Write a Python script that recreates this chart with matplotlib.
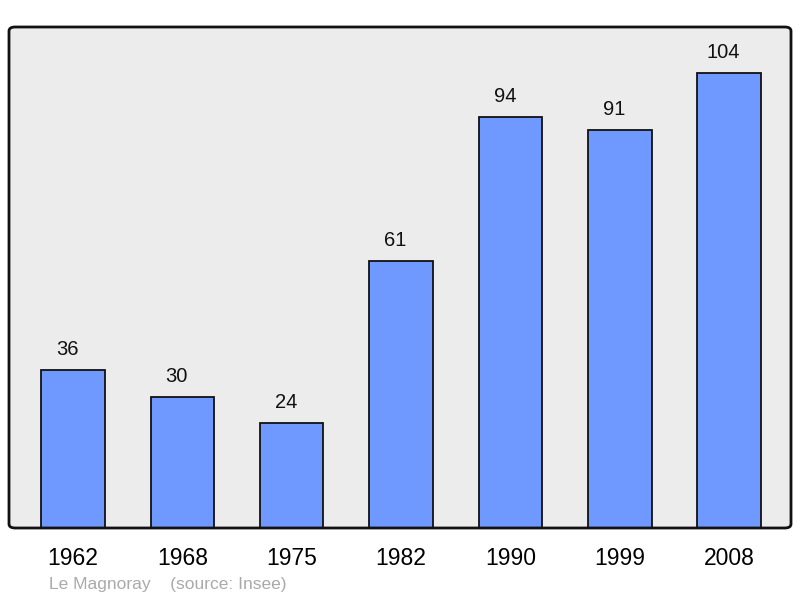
import matplotlib
matplotlib.use("Agg")
import matplotlib.pyplot as plt
from matplotlib.patches import FancyBboxPatch

years = ["1962", "1968", "1975", "1982", "1990", "1999", "2008"]
population = [36, 30, 24, 61, 94, 91, 104]
title_note = "Le Magnoray    (source: Insee)"

plt.rcParams['font.family'] = ['Liberation Sans', 'DejaVu Sans']

fig = plt.figure(figsize=(8, 5.98), dpi=100)
ax = fig.add_axes([9/800, 1 - 528/598, 782/800, 501/598])
ax.set_facecolor('#ececec')

x = list(range(len(years)))
ax.bar(x, population, width=0.58, color='#7099ff', edgecolor='#111111', linewidth=1.3, zorder=3)
for xi, v in zip(x, population):
    ax.annotate(str(v), (xi, v), xytext=(-4, 8), textcoords='offset points',
                ha='center', va='bottom', fontsize=14.5, color='#111111')

ax.set_xlim(-0.585, 6.565)
ax.set_ylim(0, 114.5)
ax.set_yticks([])
ax.set_xticks(x)
ax.set_xticklabels(years, fontsize=16.5)
ax.tick_params(axis='x', length=0, pad=14)
for s in ax.spines.values():
    s.set_visible(False)

frame = FancyBboxPatch((0, 0), 1, 1, boxstyle="round,pad=0,rounding_size=0.008",
                       transform=ax.transAxes, fill=False, edgecolor='#111111',
                       linewidth=2, clip_on=False, zorder=5)
ax.add_patch(frame)

fig.text(49/800, 1 - 584/598, title_note, fontsize=12.5, color='#aaaaaa', ha='left', va='center')

fig.savefig("out.png", dpi=100)
